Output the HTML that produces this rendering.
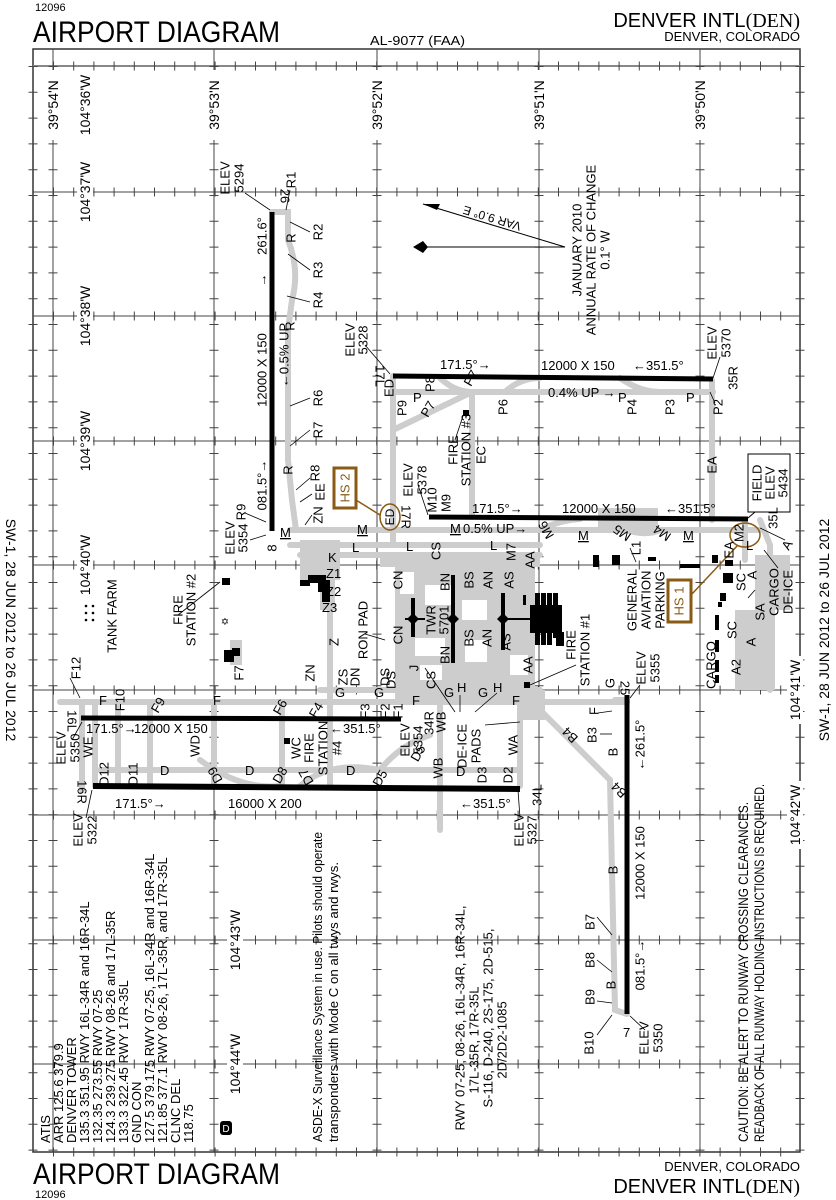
<!DOCTYPE html>
<html><head><meta charset="utf-8"><style>
html,body{margin:0;padding:0;background:#fff;}
svg{display:block;font-family:"Liberation Sans",sans-serif;}
.r{text-anchor:middle;dominant-baseline:central;}
text{fill:#000;}
</style></head><body>
<svg width="836" height="1200" viewBox="0 0 836 1200" xmlns="http://www.w3.org/2000/svg">
<!-- header -->
<text x="35" y="11" font-size="11">12096</text>
<text x="33" y="42" font-size="30" textLength="247" lengthAdjust="spacingAndGlyphs">AIRPORT DIAGRAM</text>
<text x="370" y="45" font-size="13" textLength="95" lengthAdjust="spacingAndGlyphs">AL-9077 (FAA)</text>
<text x="800" y="27" font-size="20" text-anchor="end"><tspan>DENVER INTL</tspan><tspan font-family="Liberation Serif,serif">(DEN)</tspan></text>
<text x="800" y="41" font-size="13" text-anchor="end">DENVER, COLORADO</text>
<!-- footer -->
<text x="33" y="1184" font-size="30" textLength="247" lengthAdjust="spacingAndGlyphs">AIRPORT DIAGRAM</text>
<text x="35" y="1198" font-size="11">12096</text>
<text x="800" y="1171" font-size="13" text-anchor="end">DENVER, COLORADO</text>
<text x="800" y="1193" font-size="20" text-anchor="end"><tspan>DENVER INTL</tspan><tspan font-family="Liberation Serif,serif">(DEN)</tspan></text>
<!-- side texts -->
<text class="r" transform="translate(11,630) rotate(90)" font-size="14">SW-1, 28 JUN 2012 to 26 JUL 2012</text>
<text class="r" transform="translate(824,630) rotate(-90)" font-size="14">SW-1, 28 JUN 2012 to 26 JUL 2012</text>

<!-- frame -->
<g stroke="#333" fill="none">
<rect x="33" y="49" width="767" height="1103" stroke-width="1.5"/>
<line x1="33" y1="66" x2="800" y2="66" stroke="#888" stroke-width="2"/>
</g>
<!-- grid lines -->
<g stroke="#444" stroke-width="1">
<line x1="53" y1="49" x2="53" y2="1152"/><line x1="214" y1="49" x2="214" y2="1152"/>
<line x1="377" y1="49" x2="377" y2="1152"/><line x1="539" y1="49" x2="539" y2="1152"/>
<line x1="700" y1="49" x2="700" y2="1152"/>
<line x1="33" y1="192" x2="800" y2="192"/><line x1="33" y1="316" x2="800" y2="316"/>
<line x1="33" y1="441" x2="800" y2="441"/><line x1="33" y1="565" x2="800" y2="565"/>
<line x1="33" y1="690" x2="800" y2="690"/><line x1="33" y1="815" x2="800" y2="815"/>
<line x1="33" y1="940" x2="800" y2="940"/><line x1="33" y1="1064" x2="800" y2="1064"/>
</g>
<!-- ticks via dash -->
<g stroke="#444" stroke-width="9" stroke-dasharray="1 19.2">
<line x1="53" y1="66" x2="800" y2="66"/><line x1="53" y1="192" x2="800" y2="192"/>
<line x1="53" y1="316" x2="800" y2="316"/><line x1="53" y1="441" x2="800" y2="441"/>
<line x1="53" y1="565" x2="800" y2="565"/><line x1="53" y1="690" x2="800" y2="690"/>
<line x1="53" y1="815" x2="800" y2="815"/><line x1="53" y1="940" x2="800" y2="940"/>
<line x1="53" y1="1064" x2="800" y2="1064"/><line x1="53" y1="1152" x2="800" y2="1152"/>
</g>
<g stroke="#444" stroke-width="9" stroke-dasharray="1 24.8">
<line x1="53" y1="66" x2="53" y2="1152"/><line x1="214" y1="66" x2="214" y2="1152"/>
<line x1="377" y1="66" x2="377" y2="1152"/><line x1="539" y1="66" x2="539" y2="1152"/>
<line x1="700" y1="66" x2="700" y2="1152"/><line x1="33" y1="66" x2="33" y2="1152"/>
<line x1="800" y1="66" x2="800" y2="1152"/>
</g>
<!-- coordinate labels -->
<g font-size="14">
<g fill="#fff"><rect x="45" y="70" width="16" height="70"/><rect x="206" y="70" width="16" height="70"/><rect x="369" y="70" width="16" height="70"/><rect x="531" y="70" width="16" height="70"/><rect x="692" y="70" width="16" height="70"/></g>
<text class="r" transform="translate(53,105) rotate(-90)">39°54'N</text>
<text class="r" transform="translate(214,105) rotate(-90)">39°53'N</text>
<text class="r" transform="translate(377,105) rotate(-90)">39°52'N</text>
<text class="r" transform="translate(539,105) rotate(-90)">39°51'N</text>
<text class="r" transform="translate(700,105) rotate(-90)">39°50'N</text>
<text class="r" transform="translate(85,105) rotate(-90)">104°36'W</text>
<g fill="#fff"><rect x="77" y="158" width="16" height="68"/><rect x="77" y="282" width="16" height="68"/><rect x="77" y="407" width="16" height="68"/><rect x="77" y="531" width="16" height="68"/><rect x="787" y="656" width="16" height="68"/><rect x="787" y="781" width="16" height="68"/><rect x="227" y="906" width="16" height="68"/><rect x="227" y="1030" width="16" height="68"/></g>
<text class="r" transform="translate(85,192) rotate(-90)">104°37'W</text>
<text class="r" transform="translate(85,316) rotate(-90)">104°38'W</text>
<text class="r" transform="translate(85,441) rotate(-90)">104°39'W</text>
<text class="r" transform="translate(85,565) rotate(-90)">104°40'W</text>
<text class="r" transform="translate(795,690) rotate(-90)">104°41'W</text>
<text class="r" transform="translate(795,815) rotate(-90)">104°42'W</text>
<text class="r" transform="translate(235,940) rotate(-90)">104°43'W</text>
<text class="r" transform="translate(235,1064) rotate(-90)">104°44'W</text>
</g>

<!-- taxiways (gray) -->
<g stroke="#cdcdcd" stroke-width="6" fill="none" stroke-linecap="round">
<path d="M272 212 L288 212 L288 240 Q300 270 292 300 L288 330 L288 460 L292 500 L296 530"/>
<path d="M393 376 L393 545"/>
<path d="M393 392 L713 392"/>
<path d="M393 430 L472 392"/>
<path d="M472 392 L472 517"/>
<path d="M440 378 Q455 392 472 392"/><path d="M505 392 Q520 378 540 378"/>
<path d="M620 378 Q640 392 660 392"/>
<path d="M712 380 L712 520"/>
<path d="M290 530 L760 530"/>
<path d="M290 545 L540 545"/>
<path d="M300 555 L540 555"/>
<path d="M540 530 Q560 520 580 519"/>
<path d="M600 519 Q640 540 660 530"/>
<path d="M760 520 L770 545 L770 690"/>
<path d="M745 520 L745 560"/>
<path d="M330 565 L330 700"/>
<path d="M320 690 L540 690"/>
<path d="M60 702 L540 702"/>
<path d="M540 702 L627 702"/>
<path d="M100 770 L520 770"/>
<path d="M200 760 Q240 790 280 786"/>
<path d="M300 786 Q330 760 380 770"/>
<path d="M380 770 Q400 745 430 735"/>
<path d="M82 705 L82 790"/>
<path d="M95 702 L95 786"/><path d="M118 702 L118 786"/><path d="M150 702 L150 786"/>
<path d="M214 702 L214 786"/><path d="M282 702 L282 786"/><path d="M330 702 L330 786"/>
<path d="M440 700 L440 830"/><path d="M520 700 L520 786"/>
<path d="M530 700 L610 780 L615 1010 L627 1014"/>
<path d="M615 700 L627 700"/>
<path d="M560 702 L610 702"/>
</g>
<!-- gray aprons -->
<g fill="#cdcdcd">
<rect x="300" y="540" width="40" height="40"/>
<rect x="320" y="560" width="15" height="50"/>
<rect x="380" y="553" width="160" height="14"/>
<rect x="395" y="565" width="140" height="135"/>
<rect x="520" y="690" width="25" height="30"/>
<rect x="598" y="508" width="60" height="20"/>
<rect x="755" y="555" width="35" height="55"/>
<rect x="735" y="610" width="40" height="80"/>
<rect x="230" y="640" width="12" height="25"/>
<rect x="425" y="585" width="30" height="20" fill="#fff"/>
<rect x="415" y="638" width="30" height="18" fill="#fff"/>
<rect x="462" y="600" width="25" height="20" fill="#fff"/>
<rect x="465" y="640" width="22" height="22" fill="#fff"/>
<rect x="420" y="665" width="22" height="15" fill="#fff"/>
<rect x="510" y="655" width="18" height="20" fill="#fff"/>
<rect x="400" y="572" width="14" height="22" fill="#fff"/>
</g>
<!-- runways -->
<g stroke="#000" stroke-width="5">
<line x1="272" y1="212" x2="272" y2="531"/>
<line x1="393" y1="376" x2="713" y2="379"/>
<line x1="429" y1="517" x2="748" y2="519"/>
<line x1="81" y1="718" x2="401" y2="719"/>
<line x1="93" y1="786" x2="520" y2="789" stroke-width="6"/>
<line x1="627" y1="695" x2="627" y2="1014"/>
</g>
<!-- buildings -->
<g fill="#000">
<rect x="308" y="575" width="18" height="8"/><rect x="300" y="580" width="10" height="6"/><rect x="318" y="580" width="12" height="12"/><rect x="322" y="592" width="8" height="10"/>
<rect x="222" y="578" width="8" height="7"/>
<rect x="224" y="650" width="10" height="12"/><rect x="232" y="648" width="8" height="8"/>
<rect x="535" y="593" width="5" height="52"/><rect x="541" y="593" width="5" height="52"/><rect x="547" y="593" width="5" height="52"/><rect x="553" y="593" width="5" height="45"/><rect x="530" y="605" width="32" height="28"/>
<rect x="556" y="632" width="8" height="14"/>
<rect x="524" y="682" width="6" height="6"/>
<rect x="463" y="410" width="6" height="6"/>
<rect x="284" y="738" width="6" height="6"/>
<rect x="593" y="555" width="6" height="12"/><rect x="612" y="555" width="8" height="10"/>
<rect x="648" y="557" width="8" height="4"/>
<rect x="680" y="564" width="20" height="4"/>
<rect x="712" y="555" width="6" height="8"/><rect x="725" y="560" width="8" height="6"/>
<rect x="723" y="573" width="10" height="10"/><rect x="720" y="593" width="6" height="8"/>
<rect x="718" y="602" width="4" height="5"/>
<rect x="715" y="615" width="4" height="15"/><rect x="715" y="640" width="4" height="12"/><rect x="715" y="660" width="4" height="12"/><rect x="715" y="675" width="4" height="8"/>
<rect x="523" y="595" width="3" height="10"/>
</g>
<g stroke="#000" stroke-width="4">
<line x1="413" y1="598" x2="413" y2="637"/><line x1="453" y1="575" x2="453" y2="663"/><line x1="503" y1="593" x2="503" y2="650"/>
<line x1="405" y1="619" x2="425" y2="619" stroke-width="2"/><line x1="503" y1="619" x2="533" y2="619" stroke-width="2"/>
</g>
<g fill="#000"><path d="M413 613 l6 6 -6 6 -6 -6z"/><path d="M453 613 l6 6 -6 6 -6 -6z"/><path d="M503 613 l6 6 -6 6 -6 -6z"/></g>
<text x="225" y="625" font-size="10" text-anchor="middle">✡</text>
<g fill="#000"><circle cx="86" cy="606" r="1.3"/><circle cx="86" cy="613" r="1.3"/><circle cx="86" cy="620" r="1.3"/><circle cx="93" cy="606" r="1.3"/><circle cx="93" cy="613" r="1.3"/><circle cx="93" cy="620" r="1.3"/></g>

<!-- magnetic variation -->
<g stroke="#000" stroke-width="1" fill="none">
<line x1="565" y1="247" x2="425" y2="247"/><line x1="565" y1="247" x2="423" y2="204"/>
</g>
<path d="M413 247 L423 241 L428 247 L423 253 Z" fill="#000"/>
<path d="M423 204 L440 204 L437 210 Z" fill="#000"/>
<text class="r" transform="translate(492,218) rotate(196.8)" font-size="12">VAR 9.0° E</text>
<g font-size="13">
<text class="r" transform="translate(577,250) rotate(-90)">JANUARY 2010</text>
<text class="r" transform="translate(591,250) rotate(-90)">ANNUAL RATE OF CHANGE</text>
<text class="r" transform="translate(605,250) rotate(-90)">0.1° W</text>
</g>

<!-- HS markers -->
<g stroke="#8a5a14" fill="none">
<rect x="334" y="468" width="22" height="40" stroke-width="3"/>
<ellipse cx="390" cy="517" rx="10" ry="13" stroke-width="1.5"/>
<line x1="356" y1="500" x2="380" y2="515" stroke-width="1.5"/>
<rect x="668" y="580" width="23" height="42" stroke-width="3"/>
<ellipse cx="745" cy="535" rx="15" ry="12" stroke-width="1.5"/>
<line x1="691" y1="595" x2="738" y2="545" stroke-width="1.5"/>
</g>
<text class="r" transform="translate(345,488) rotate(-90)" font-size="13" style="fill:#8a5a14">HS 2</text>
<text class="r" transform="translate(679,601) rotate(-90)" font-size="13" style="fill:#8a5a14">HS 1</text>
<text class="r" transform="translate(390,517) rotate(-90)" font-size="12">ED</text>

<!-- field elev box -->
<rect x="748" y="454" width="42" height="58" fill="#fff" stroke="#000"/>
<g font-size="13">
<text class="r" transform="translate(757,483) rotate(-90)">FIELD</text>
<text class="r" transform="translate(770,483) rotate(-90)">ELEV</text>
<text class="r" transform="translate(783,483) rotate(-90)">5434</text>
</g>
<line x1="755" y1="512" x2="748" y2="518" stroke="#000"/>

<!-- leader lines -->
<g stroke="#000" stroke-width="0.8" fill="none">
<line x1="245" y1="193" x2="270" y2="210"/><line x1="290" y1="190" x2="286" y2="210"/>
<line x1="310" y1="232" x2="290" y2="222"/><line x1="310" y1="270" x2="288" y2="254"/><line x1="310" y1="302" x2="287" y2="296"/>
<line x1="310" y1="398" x2="290" y2="406"/><line x1="310" y1="430" x2="290" y2="446"/>
<line x1="310" y1="478" x2="296" y2="490"/><line x1="312" y1="494" x2="300" y2="502"/><line x1="312" y1="515" x2="305" y2="525"/>
<line x1="245" y1="513" x2="266" y2="522"/><line x1="250" y1="540" x2="266" y2="535"/>
<line x1="365" y1="345" x2="390" y2="374"/><line x1="418" y1="485" x2="428" y2="515"/>
<line x1="720" y1="357" x2="713" y2="378"/><line x1="715" y1="403" x2="710" y2="392"/>
<line x1="178" y1="615" x2="220" y2="582"/><line x1="365" y1="634" x2="385" y2="640"/>
<line x1="455" y1="440" x2="463" y2="416"/>
<line x1="576" y1="665" x2="530" y2="685"/>
<line x1="640" y1="685" x2="630" y2="698"/>
<line x1="598" y1="713" x2="612" y2="711"/><line x1="600" y1="734" x2="612" y2="734"/>
<line x1="597" y1="917" x2="612" y2="935"/><line x1="597" y1="960" x2="612" y2="972"/><line x1="597" y1="1001" x2="612" y2="1003"/><line x1="597" y1="1035" x2="612" y2="1015"/><line x1="645" y1="1030" x2="630" y2="1016"/>
<line x1="70" y1="678" x2="80" y2="698"/><line x1="72" y1="740" x2="82" y2="722"/>
<line x1="86" y1="818" x2="92" y2="790"/><line x1="520" y1="818" x2="518" y2="790"/>
<line x1="455" y1="712" x2="425" y2="668"/><line x1="460" y1="712" x2="460" y2="695"/><line x1="475" y1="712" x2="497" y2="693"/><line x1="485" y1="725" x2="520" y2="722"/>
<line x1="630" y1="548" x2="636" y2="562"/><line x1="764" y1="550" x2="778" y2="568" /><line x1="755" y1="590" x2="748" y2="598"/>
<line x1="785" y1="540" x2="760" y2="528"/>
</g>

<g font-size="13">
<!-- 8/26 -->
<text class="r" transform="translate(225,178) rotate(-90)">ELEV</text>
<text class="r" transform="translate(239,178) rotate(-90)">5294</text>
<text class="r" transform="translate(285,196) rotate(90)">26</text>
<text class="r" transform="translate(291,180) rotate(-90)">R1</text>
<text class="r" transform="translate(262,236) rotate(-90)">261.6°</text>
<text class="r" transform="translate(262,280) rotate(-90)">→</text>
<text class="r" transform="translate(291,238) rotate(-90)">R</text>
<text class="r" transform="translate(318,232) rotate(-90)">R2</text>
<text class="r" transform="translate(318,270) rotate(-90)">R3</text>
<text class="r" transform="translate(318,300) rotate(-90)">R4</text>
<text class="r" transform="translate(262,370) rotate(-90)">12000 X 150</text>
<text class="r" transform="translate(284,355) rotate(-90)">←0.5% UP</text>
<text class="r" transform="translate(290,326) rotate(-90)">R</text>
<text class="r" transform="translate(318,398) rotate(-90)">R6</text>
<text class="r" transform="translate(318,430) rotate(-90)">R7</text>
<text class="r" transform="translate(288,470) rotate(-90)">R</text>
<text class="r" transform="translate(315,473) rotate(-90)">R8</text>
<text class="r" transform="translate(320,492) rotate(-90)">EE</text>
<text class="r" transform="translate(318,515) rotate(-90)">ZN</text>
<text class="r" transform="translate(241,512) rotate(-90)">R9</text>
<text class="r" transform="translate(262,485) rotate(-90)">081.5°→</text>
<text class="r" transform="translate(272,548) rotate(-90)">8</text>
<text x="280" y="537" text-decoration="underline">M</text>
<text class="r" transform="translate(230,538) rotate(-90)">ELEV</text>
<text class="r" transform="translate(243,538) rotate(-90)">5354</text>
<text x="328" y="562">K</text><text x="352" y="552">L</text><text x="357" y="534" text-decoration="underline">M</text>
<!-- 17L -->
<text class="r" transform="translate(350,340) rotate(-90)">ELEV</text>
<text class="r" transform="translate(363,340) rotate(-90)">5328</text>
<text class="r" transform="translate(380,376) rotate(90)">17L</text>
<text class="r" transform="translate(389,388) rotate(-90)">ED</text>
<text class="r" transform="translate(402,408) rotate(-90)">P9</text>
<text x="413" y="402">P</text>
<text class="r" transform="translate(430,384) rotate(-90)">P8</text>
<text class="r" transform="translate(471,378) rotate(-60)">P7</text>
<text class="r" transform="translate(428,409) rotate(-60)">P7</text>
<text class="r" transform="translate(453,450) rotate(-90)">FIRE</text>
<text class="r" transform="translate(466,450) rotate(-90)">STATION #3</text>
<text class="r" transform="translate(481,455) rotate(-90)">EC</text>
<text class="r" transform="translate(503,407) rotate(-90)">P6</text>
<text x="440" y="369">171.5°→</text>
<text x="541" y="370">12000 X 150</text>
<text x="633" y="370">←351.5°</text>
<text x="548" y="397">0.4% UP →</text>
<text x="618" y="402">P</text>
<text class="r" transform="translate(632,407) rotate(-90)">P4</text>
<text class="r" transform="translate(670,407) rotate(-90)">P3</text>
<text x="686" y="402">P</text>
<text class="r" transform="translate(718,407) rotate(-90)">P2</text>
<text class="r" transform="translate(733,378) rotate(-90)">35R</text>
<text class="r" transform="translate(712,343) rotate(-90)">ELEV</text>
<text class="r" transform="translate(726,343) rotate(-90)">5370</text>
<text class="r" transform="translate(712,465) rotate(-90)">EA</text>
<!-- 17R -->
<text class="r" transform="translate(406,517) rotate(90)">17R</text>
<text class="r" transform="translate(408,480) rotate(-90)">ELEV</text>
<text class="r" transform="translate(422,480) rotate(-90)">5378</text>
<text class="r" transform="translate(432,500) rotate(-90)">M10</text>
<text class="r" transform="translate(446,503) rotate(-90)">M9</text>
<text x="472" y="513">171.5°→</text>
<text x="562" y="513">12000 X 150</text>
<text x="665" y="513">←351.5°</text>
<text class="r" transform="translate(773,518) rotate(-90)">35L</text>
<text class="r" transform="translate(739,533) rotate(-90)">M2</text>
<text class="r" transform="translate(787,545) rotate(-60)">A</text>
<text class="r" transform="translate(729,550) rotate(-90)">EA</text>
<text x="746" y="550">L</text>
<text x="683" y="540" text-decoration="underline">M</text>
<text class="r" transform="translate(662,533) rotate(-145)">M4</text>
<text class="r" transform="translate(622,533) rotate(-145)">M5</text>
<text x="578" y="540" text-decoration="underline">M</text>
<text class="r" transform="translate(546,530) rotate(-120)">M6</text>
<text x="450" y="533" text-decoration="underline">M</text>
<text x="463" y="533">0.5% UP→</text>
<text x="406" y="551">L</text><text x="490" y="550">L</text>
<text class="r" transform="translate(436,551) rotate(-90)">CS</text>
<text class="r" transform="translate(511,552) rotate(-90)">M7</text>
<text class="r" transform="translate(530,560) rotate(-90)">AA</text>
<text class="r" transform="translate(636,548) rotate(-90)">L1</text>
<!-- terminal -->
<text class="r" transform="translate(398,580) rotate(-90)">CN</text>
<text class="r" transform="translate(445,582) rotate(-90)">BN</text>
<text class="r" transform="translate(469,580) rotate(-90)">BS</text>
<text class="r" transform="translate(488,580) rotate(-90)">AN</text>
<text class="r" transform="translate(509,580) rotate(-90)">AS</text>
<text class="r" transform="translate(431,620) rotate(-90)">TWR</text>
<text class="r" transform="translate(444,620) rotate(-90)">5701</text>
<text class="r" transform="translate(398,635) rotate(-90)">CN</text>
<text class="r" transform="translate(445,655) rotate(-90)">BN</text>
<text class="r" transform="translate(469,638) rotate(-90)">BS</text>
<text class="r" transform="translate(487,638) rotate(-90)">AN</text>
<text class="r" transform="translate(506,642) rotate(-90)">AS</text>
<text class="r" transform="translate(414,668) rotate(-90)">J</text>
<text class="r" transform="translate(431,680) rotate(-90)">CS</text>
<text class="r" transform="translate(391,680) rotate(-90)">DS</text>
<text class="r" transform="translate(528,665) rotate(-90)">AA</text>
<text class="r" transform="translate(571,645) rotate(-90)">FIRE</text>
<text class="r" transform="translate(585,650) rotate(-90)">STATION #1</text>
<text class="r" transform="translate(632,600) rotate(-90)">GENERAL</text>
<text class="r" transform="translate(646,600) rotate(-90)">AVIATION</text>
<text class="r" transform="translate(660,600) rotate(-90)">PARKING</text>
<text class="r" transform="translate(741,582) rotate(-90)">SC</text>
<text class="r" transform="translate(752,575) rotate(-90)">A</text>
<text class="r" transform="translate(760,612) rotate(-90)">SA</text>
<text class="r" transform="translate(774,592) rotate(-90)">CARGO</text>
<text class="r" transform="translate(788,592) rotate(-90)">DE-ICE</text>
<text class="r" transform="translate(732,630) rotate(-90)">SC</text>
<text class="r" transform="translate(751,642) rotate(-90)">A</text>
<text class="r" transform="translate(736,667) rotate(-90)">A2</text>
<text class="r" transform="translate(711,665) rotate(-90)">CARGO</text>
<text class="r" transform="translate(363,630) rotate(-90)">RON PAD</text>
<text x="326" y="578">Z1</text><text x="326" y="596">Z2</text><text x="322" y="612">Z3</text>
<text class="r" transform="translate(334,642) rotate(-90)">Z</text>
<text class="r" transform="translate(112,616) rotate(-90)">TANK FARM</text>
<text class="r" transform="translate(178,610) rotate(-90)">FIRE</text>
<text class="r" transform="translate(191,610) rotate(-90)">STATION #2</text>
<text class="r" transform="translate(239,673) rotate(-90)">F7</text>
<text class="r" transform="translate(76,668) rotate(-90)">F12</text>
<text class="r" transform="translate(310,673) rotate(-90)">ZN</text>
<text class="r" transform="translate(343,677) rotate(-90)">ZS</text>
<text class="r" transform="translate(355,677) rotate(-90)">DN</text>
<text x="335" y="697">G</text><text x="374" y="697">G</text>
<text class="r" transform="translate(385,677) rotate(-90)">DS</text>
<!-- F row -->
<text x="99" y="705">F</text>
<text class="r" transform="translate(120,700) rotate(-90)">F10</text>
<text class="r" transform="translate(158,705) rotate(-60)">F9</text>
<text x="213" y="705">F</text>
<text class="r" transform="translate(280,707) rotate(-60)">F6</text>
<text class="r" transform="translate(316,710) rotate(-60)">F4</text>
<text class="r" transform="translate(365,711) rotate(-90)">F3</text>
<text class="r" transform="translate(385,711) rotate(-90)">F2</text>
<text class="r" transform="translate(398,711) rotate(-90)">F1</text>
<text x="412" y="705">F</text>
<text x="444" y="697">G</text><text x="457" y="692">H</text>
<text x="478" y="697">G</text><text x="493" y="692">H</text>
<text x="512" y="705">F</text>
<text class="r" transform="translate(72,721) rotate(90)">16L</text>
<text x="86" y="733">171.5°→</text>
<text x="134" y="733">12000 X 150</text>
<text x="330" y="733">←351.5°</text>
<text class="r" transform="translate(61,748) rotate(-90)">ELEV</text>
<text class="r" transform="translate(75,748) rotate(-90)">5350</text>
<text class="r" transform="translate(88,747) rotate(-90)">WE</text>
<text class="r" transform="translate(195,746) rotate(-90)">WD</text>
<text class="r" transform="translate(296,748) rotate(-90)">WC</text>
<text class="r" transform="translate(309,748) rotate(-90)">FIRE</text>
<text class="r" transform="translate(323,748) rotate(-90)">STATION</text>
<text class="r" transform="translate(337,748) rotate(-90)">#4</text>
<text class="r" transform="translate(405,740) rotate(-90)">ELEV</text>
<text class="r" transform="translate(418,740) rotate(-90)">5354</text>
<text class="r" transform="translate(429,723) rotate(-90)">34R</text>
<text class="r" transform="translate(441,722) rotate(-90)">WB</text>
<text class="r" transform="translate(462,746) rotate(-90)">DE-ICE</text>
<text class="r" transform="translate(476,746) rotate(-90)">PADS</text>
<text class="r" transform="translate(513,745) rotate(-90)">WA</text>
<text class="r" transform="translate(418,753) rotate(-60)">D5</text>
<!-- D row -->
<text class="r" transform="translate(104,774) rotate(-90)">D12</text>
<text class="r" transform="translate(133,774) rotate(-90)">D11</text>
<text x="160" y="775">D</text>
<text class="r" transform="translate(215,775) rotate(-120)">D9</text>
<text x="245" y="775">D</text>
<text class="r" transform="translate(280,775) rotate(-60)">D8</text>
<text class="r" transform="translate(306,777) rotate(-120)">D7</text>
<text x="346" y="775">D</text>
<text class="r" transform="translate(380,778) rotate(-60)">D5</text>
<text class="r" transform="translate(438,768) rotate(-90)">WB</text>
<text x="456" y="776">D</text>
<text class="r" transform="translate(482,775) rotate(-90)">D3</text>
<text class="r" transform="translate(508,775) rotate(-90)">D2</text>
<text class="r" transform="translate(82,792) rotate(90)">16R</text>
<text x="115" y="808">171.5°→</text>
<text x="228" y="808">16000 X 200</text>
<text x="460" y="808">←351.5°</text>
<text class="r" transform="translate(537,795) rotate(-90)">34L</text>
<text class="r" transform="translate(519,830) rotate(-90)">ELEV</text>
<text class="r" transform="translate(532,830) rotate(-90)">5327</text>
<text class="r" transform="translate(78,830) rotate(-90)">ELEV</text>
<text class="r" transform="translate(92,830) rotate(-90)">5322</text>
<!-- 7/25 -->
<text class="r" transform="translate(625,688) rotate(90)">25</text>
<text class="r" transform="translate(641,668) rotate(-90)">ELEV</text>
<text class="r" transform="translate(655,668) rotate(-90)">5355</text>
<text class="r" transform="translate(610,683) rotate(-90)">G</text>
<text class="r" transform="translate(594,711) rotate(-90)">F</text>
<text class="r" transform="translate(592,735) rotate(-90)">B3</text>
<text class="r" transform="translate(613,752) rotate(-90)">B</text>
<text class="r" transform="translate(570,735) rotate(-135)">B4</text>
<text class="r" transform="translate(619,790) rotate(-135)">B4</text>
<text class="r" transform="translate(640,745) rotate(-90)">←261.5°</text>
<text class="r" transform="translate(613,870) rotate(-90)">B</text>
<text class="r" transform="translate(640,863) rotate(-90)">12000 X 150</text>
<text class="r" transform="translate(590,922) rotate(-90)">B7</text>
<text class="r" transform="translate(590,960) rotate(-90)">B8</text>
<text class="r" transform="translate(611,985) rotate(-90)">B</text>
<text class="r" transform="translate(590,997) rotate(-90)">B9</text>
<text class="r" transform="translate(640,965) rotate(-90)">081.5°→</text>
<text class="r" transform="translate(589,1043) rotate(-90)">B10</text>
<text x="623" y="1037">7</text>
<text class="r" transform="translate(644,1038) rotate(-90)">ELEV</text>
<text class="r" transform="translate(658,1038) rotate(-90)">5350</text>
</g>

<!-- caution -->
<g font-size="14">
<text transform="translate(748,1142) rotate(-90)" textLength="340" lengthAdjust="spacingAndGlyphs">CAUTION: BE ALERT TO RUNWAY CROSSING CLEARANCES.</text>
<text transform="translate(764,1142) rotate(-90)" textLength="358" lengthAdjust="spacingAndGlyphs">READBACK OF ALL RUNWAY HOLDING INSTRUCTIONS IS REQUIRED.</text>
</g>
<!-- ASDE-X -->
<g font-size="13">
<text transform="translate(322,1142) rotate(-90)" textLength="310" lengthAdjust="spacingAndGlyphs">ASDE-X Surveillance System in use. Pilots should operate</text>
<text transform="translate(338,1142) rotate(-90)" textLength="280" lengthAdjust="spacingAndGlyphs">transponders with Mode C on all twys and rwys.</text>
</g>
<!-- RWY weights -->
<g font-size="13">
<text class="r" transform="translate(460,1018) rotate(-90)">RWY 07-25, 08-26, 16L-34R, 16R-34L,</text>
<text class="r" transform="translate(474,1040) rotate(-90)">17L-35R, 17R-35L</text>
<text class="r" transform="translate(488,1018) rotate(-90)">S-116, D-240, 2S-175, 2D-515,</text>
<text class="r" transform="translate(502,1040) rotate(-90)">2D/2D2-1085</text>
</g>
<!-- frequencies -->
<g font-size="13">
<text transform="translate(50,1143) rotate(-90)">ATIS</text>
<text transform="translate(63,1143) rotate(-90)">ARR 125.6 379.9</text>
<text transform="translate(76,1143) rotate(-90)">DENVER TOWER</text>
<text transform="translate(89,1143) rotate(-90)">135.3 351.95 RWY 16L-34R and 16R-34L</text>
<text transform="translate(102,1143) rotate(-90)">132.35 273.55 RWY 07-25</text>
<text transform="translate(115,1143) rotate(-90)">124.3 239.275 RWY 08-26 and 17L-35R</text>
<text transform="translate(128,1143) rotate(-90)">133.3 322.45 RWY 17R-35L</text>
<text transform="translate(141,1143) rotate(-90)">GND CON</text>
<text transform="translate(154,1143) rotate(-90)">127.5 379.175 RWY 07-25, 16L-34R and 16R-34L</text>
<text transform="translate(167,1143) rotate(-90)">121.85 377.1 RWY 08-26, 17L-35R, and 17R-35L</text>
<text transform="translate(180,1143) rotate(-90)">CLNC DEL</text>
<text transform="translate(193,1143) rotate(-90)">118.75</text>
</g>
<rect x="220" y="1121" width="12" height="14" rx="3" fill="#000"/>
<text x="226" y="1132" font-size="10" text-anchor="middle" style="fill:#fff">D</text>
</svg>
</body></html>
